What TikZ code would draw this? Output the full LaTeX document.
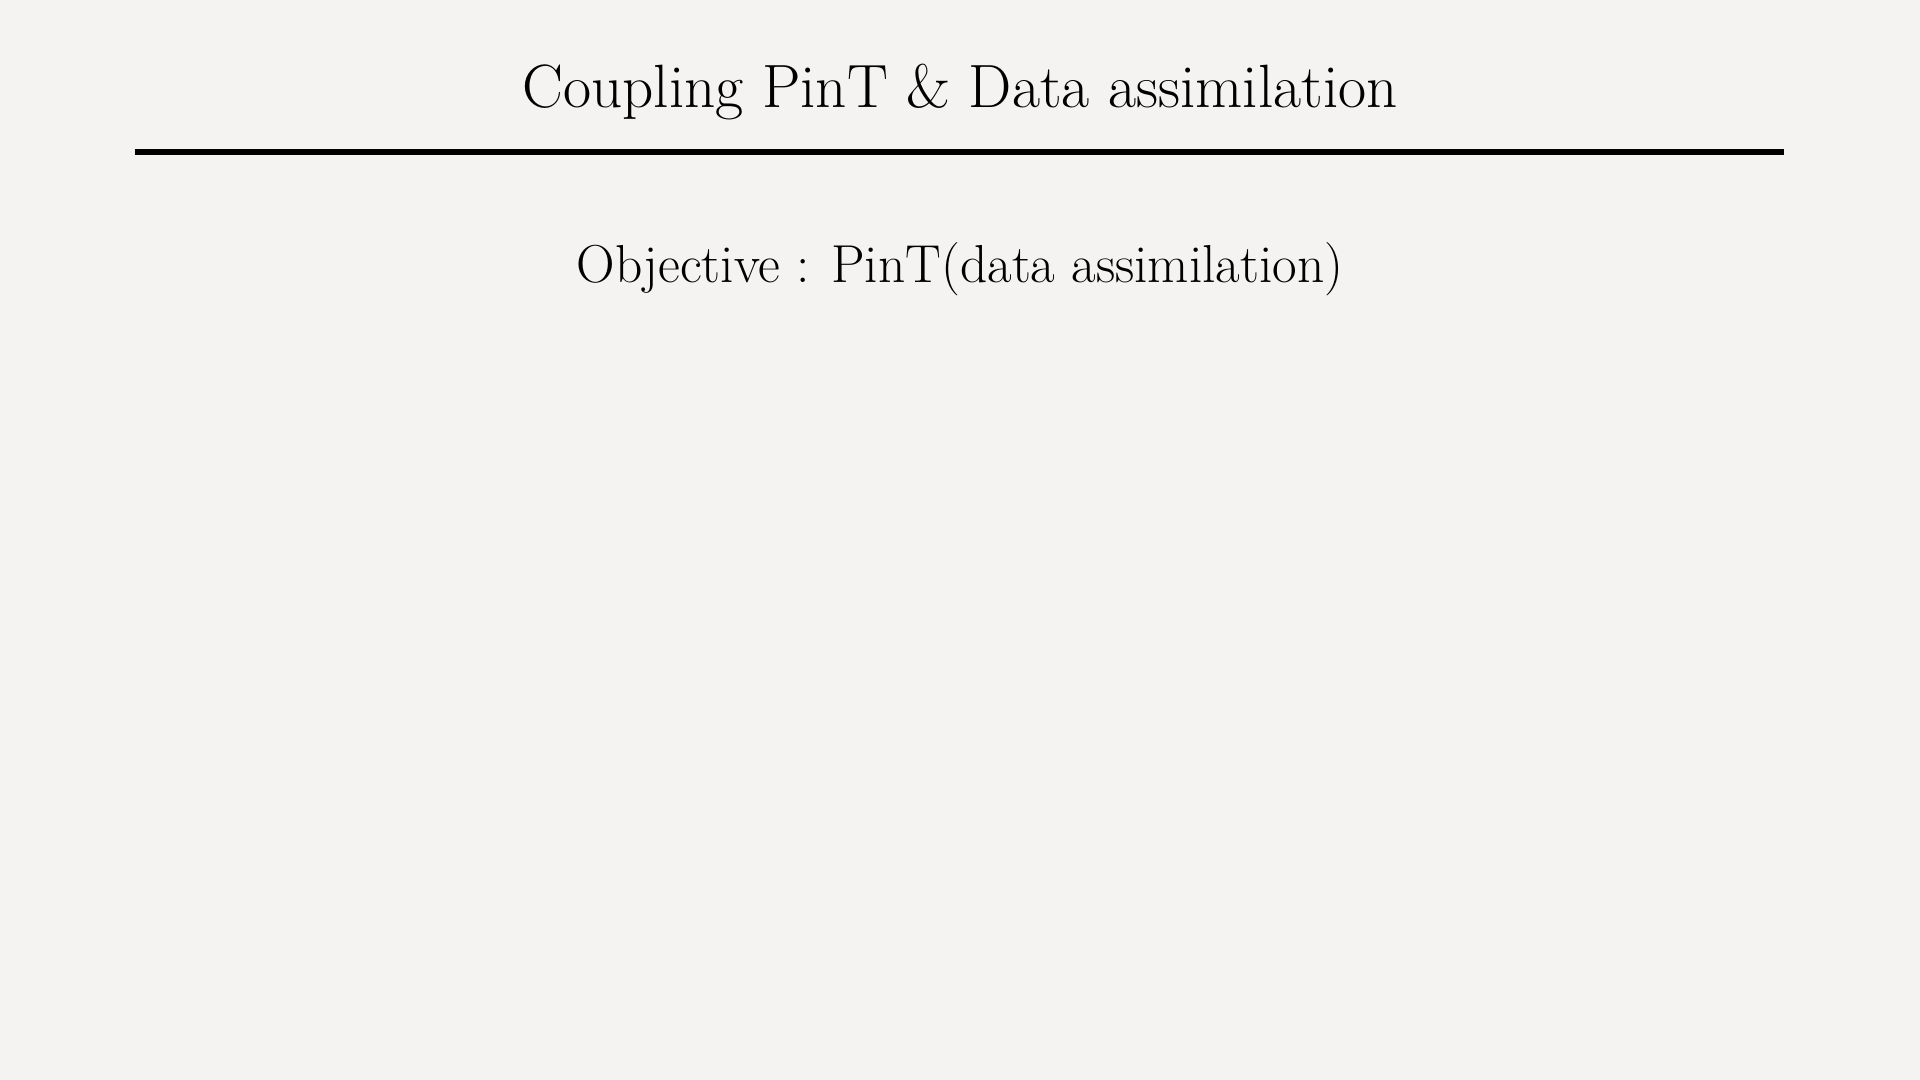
\documentclass[tikz,border=0pt]{standalone}
\usepackage{xcolor}
\definecolor{slidebg}{HTML}{F4F3F1}
\begin{document}
\begin{tikzpicture}[
	titletext/.style={anchor=base, inner sep=0pt, font=\fontsize{17.4}{20}\selectfont},
	bodytext/.style={anchor=base, inner sep=0pt, font=\fontsize{15.2}{18}\selectfont},
	titlerule/.style={line width=1.7pt}]
	\fill [slidebg] (0,0) rectangle (19.2,10.8);
	\useasboundingbox (0,0) rectangle (19.2,10.8);
	\node [titletext] (title) at (9.6,9.72) {Coupling PinT \& Data assimilation};
	\coordinate (ruleL) at (1.35,9.28);
	\coordinate (ruleR) at (17.84,9.28);
	\draw [titlerule] (ruleL) -- (ruleR);
	\node [bodytext] (objective) at (9.6,7.97) {Objective : PinT(data assimilation)};
\end{tikzpicture}
\end{document}
